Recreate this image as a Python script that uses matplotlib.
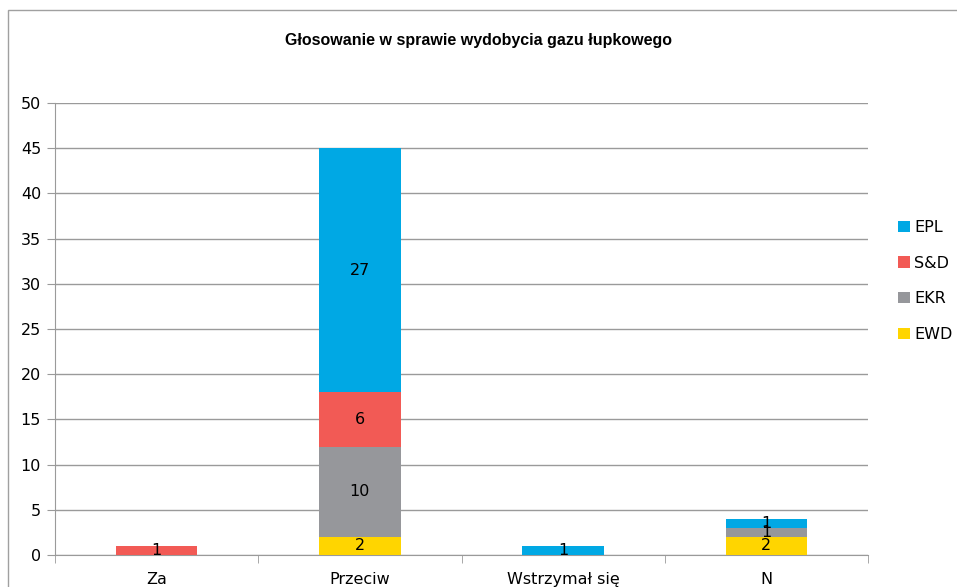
import numpy as np
import matplotlib.pyplot as plt
from matplotlib.patches import Rectangle

kategorie = ['Za', 'Przeciw', 'Wstrzymał się', 'N']
serie = ['EWD', 'EKR', 'S&D', 'EPL']
ewd = [0, 2, 0, 2]
ekr = [0, 10, 0, 1]
sd = [1, 6, 0, 0]
epl = [0, 27, 1, 1]
kolory = ['#FFD500', '#96979B', '#F25A55', '#00A8E4']

fig = plt.figure(figsize=(9.57, 5.87), dpi=100)
ax = fig.add_axes([55 / 957, 1 - 555 / 587, 813 / 957, 452 / 587])

# ramka wokol wykresu
fig.patches.append(Rectangle((8 / 957, -0.05), 1.1, 1 - 10 / 587 + 0.05,
                             transform=fig.transFigure, fill=False,
                             edgecolor='#A0A0A0', linewidth=1))

x = np.arange(len(kategorie))
dol = np.zeros(len(kategorie))
for nazwa, wartosci, kolor in zip(serie, [ewd, ekr, sd, epl], kolory):
    wartosci = np.array(wartosci, dtype=float)
    ax.bar(x, wartosci, bottom=dol, width=0.4, color=kolor, label=nazwa, zorder=3)
    for xi, v, b in zip(x, wartosci, dol):
        if v > 0:
            ax.text(xi, b + v / 2, f'{int(v)}', ha='center', va='center',
                    fontsize=11.5, color='black', zorder=4)
    dol += wartosci

ax.set_xlim(-0.5, len(kategorie) - 0.5)
ax.set_ylim(0, 50)
ax.set_yticks(range(0, 51, 5))
ax.yaxis.grid(True, color='#9A9A9A', linewidth=1)
ax.set_axisbelow(True)

ax.set_xticks(x)
ax.set_xticklabels(kategorie, fontsize=11.5)
ax.set_xticks(np.arange(-0.5, len(kategorie)), minor=True)
ax.tick_params(axis='x', which='major', length=0, pad=12)
ax.tick_params(axis='x', which='minor', length=6, color='#9A9A9A', direction='out')
ax.tick_params(axis='y', length=6, color='#9A9A9A', labelsize=11.5, pad=4)

for s in ['top', 'right']:
    ax.spines[s].set_visible(False)
for s in ['left', 'bottom']:
    ax.spines[s].set_color('#9A9A9A')

fig.text(0.5, 1 - 40 / 587, 'Głosowanie w sprawie wydobycia gazu łupkowego',
         ha='center', va='center', fontsize=11.5, fontweight='bold',
         family='Liberation Sans')

uchwyty, etykiety = ax.get_legend_handles_labels()
fig.legend(uchwyty[::-1], etykiety[::-1], loc='center left',
           bbox_to_anchor=(884 / 957, 1 - 281 / 587), frameon=False,
           fontsize=11.5, handlelength=0.7, handleheight=0.7,
           handletextpad=0.3, labelspacing=1.3)

fig.savefig('out.png', dpi=100)
